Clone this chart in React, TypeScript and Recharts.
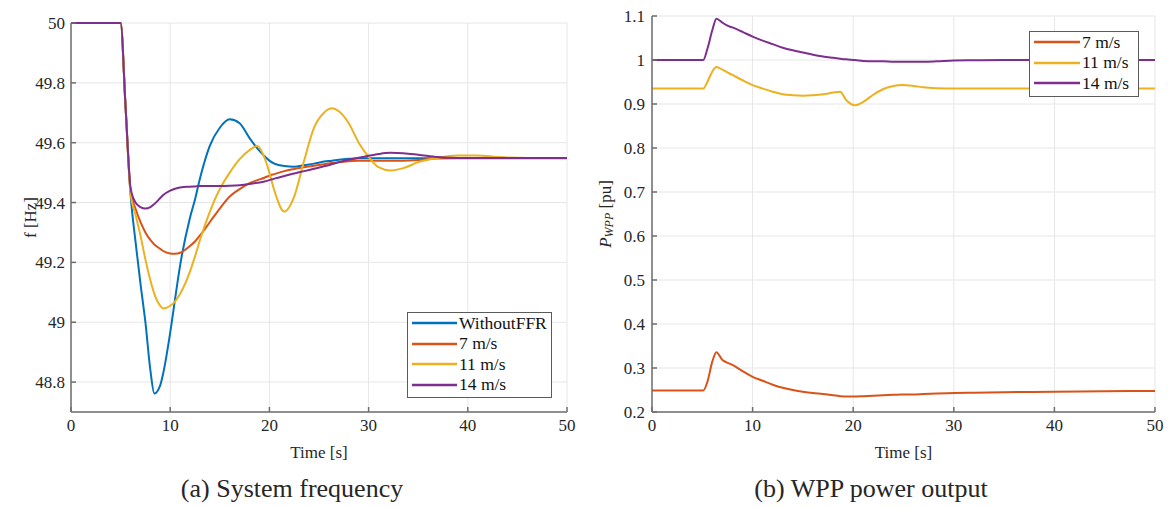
import React from 'react'
import { LineChart, Line, XAxis, YAxis, CartesianGrid, Legend } from 'recharts'

// (a) system frequency
const freqTime = [0, 5, 5.5, 6, 6.5, 7, 7.5, 8, 8.4, 9, 9.3, 10, 10.5, 11, 12, 12.5, 13, 14, 15, 16, 17, 18, 18.8, 19.5, 20, 20.5, 21.5, 22.5, 23.5, 24.5, 25.5, 26.3, 27, 28, 29, 30, 31, 32.2, 33.5, 35, 37, 39, 41, 43, 46, 50]
const freqWithoutFFR = [50, 50, 49.72, 49.43, 49.27, 49.13, 49.0, 48.84, 48.762, 48.79, 48.83, 48.965, 49.08, 49.19, 49.35, 49.41, 49.48, 49.59, 49.65, 49.678, 49.665, 49.615, 49.58, 49.555, 49.54, 49.53, 49.522, 49.52, 49.525, 49.53, 49.537, 49.54, 49.543, 49.546, 49.548, 49.548, 49.548, 49.548, 49.548, 49.548, 49.548, 49.548, 49.548, 49.548, 49.548, 49.548]
const freq7 = [50, 50, 49.72, 49.44, 49.38, 49.335, 49.3, 49.275, 49.26, 49.245, 49.238, 49.23, 49.229, 49.232, 49.255, 49.27, 49.29, 49.335, 49.38, 49.42, 49.445, 49.465, 49.475, 49.483, 49.49, 49.495, 49.505, 49.512, 49.518, 49.523, 49.528, 49.532, 49.535, 49.538, 49.54, 49.54, 49.54, 49.54, 49.54, 49.542, 49.548, 49.549, 49.549, 49.549, 49.549, 49.549]
const freq11 = [50, 50, 49.72, 49.43, 49.36, 49.29, 49.21, 49.14, 49.095, 49.055, 49.046, 49.055, 49.07, 49.095, 49.17, 49.22, 49.275, 49.37, 49.445, 49.5, 49.545, 49.575, 49.589, 49.55, 49.5, 49.44, 49.37, 49.42, 49.54, 49.65, 49.7, 49.715, 49.705, 49.665, 49.6, 49.553, 49.518, 49.507, 49.515, 49.535, 49.55, 49.557, 49.557, 49.552, 49.549, 49.549]
const freq14 = [50, 50, 49.72, 49.45, 49.4, 49.385, 49.38, 49.385, 49.395, 49.415, 49.425, 49.44, 49.446, 49.45, 49.453, 49.454, 49.455, 49.455, 49.455, 49.456, 49.458, 49.462, 49.466, 49.47, 49.475, 49.48, 49.489, 49.497, 49.505, 49.513, 49.521, 49.528, 49.535, 49.543, 49.55, 49.556, 49.562, 49.566, 49.565, 49.56, 49.552, 49.549, 49.549, 49.549, 49.549, 49.549]

// (b) WPP power output
const powerTime = [0, 5.1, 5.5, 6, 6.4, 7, 7.4, 8, 9, 10, 11, 12, 13, 14, 15, 16, 17, 18, 18.7, 19.3, 20.2, 21, 22, 23, 24, 24.8, 26, 27, 28.3, 30, 32, 35, 40, 45, 50]
const power7 = [0.249, 0.249, 0.268, 0.315, 0.336, 0.318, 0.313, 0.307, 0.293, 0.28, 0.271, 0.262, 0.255, 0.25, 0.246, 0.243, 0.241, 0.238, 0.236, 0.235, 0.235, 0.236, 0.237, 0.238, 0.239, 0.24, 0.24, 0.241, 0.242, 0.243, 0.244, 0.245, 0.246, 0.247, 0.248]
const power11 = [0.935, 0.935, 0.95, 0.974, 0.984, 0.978, 0.973, 0.966, 0.954, 0.943, 0.935, 0.928, 0.922, 0.92, 0.919, 0.92, 0.922, 0.926, 0.928, 0.909, 0.897, 0.905, 0.921, 0.934, 0.941, 0.943, 0.941, 0.938, 0.936, 0.935, 0.935, 0.935, 0.935, 0.935, 0.935]
const power14 = [1.0, 1.0, 1.025, 1.068, 1.094, 1.085, 1.079, 1.074, 1.064, 1.053, 1.044, 1.036, 1.028, 1.022, 1.017, 1.012, 1.008, 1.005, 1.003, 1.0015, 1.0, 0.998, 0.997, 0.997, 0.996, 0.996, 0.996, 0.996, 0.997, 0.999, 0.9995, 1.0, 1.0, 1.0, 1.0]

const freqSeriesNames = ['WithoutFFR', '7 m/s', '11 m/s', '14 m/s']
const powerSeriesNames = ['7 m/s', '11 m/s', '14 m/s']

const timeTicks = [0, 10, 20, 30, 40, 50]
const freqTicks = [48.8, 49, 49.2, 49.4, 49.6, 49.8, 50]
const powerTicks = [0.2, 0.3, 0.4, 0.5, 0.6, 0.7, 0.8, 0.9, 1, 1.1]

const BLUE = '#0072BD'
const RED = '#D95319'
const YELLOW = '#EDB120'
const PURPLE = '#7E2F8E'

const font = "'Liberation Serif', 'Times New Roman', serif"
const axisColor = '#6e6e6e'
const textColor = '#262626'
const tickStyle = { fill: textColor, fontSize: 17, fontFamily: font }

const freqData = freqTime.map((t, i) => ({
  t,
  noFFR: freqWithoutFFR[i],
  w7: freq7[i],
  w11: freq11[i],
  w14: freq14[i],
}))

const powerData = powerTime.map((t, i) => ({
  t,
  w7: power7[i],
  w11: power11[i],
  w14: power14[i],
}))

// legend box in the MATLAB style, entries kept in plotting order
const legendBox = (width: number, lineLen: number, order: string[]) => (props: any) => {
  const items = [...(props.payload || [])].sort(
    (a: any, b: any) => order.indexOf(a.value) - order.indexOf(b.value)
  )
  return (
    <div
      style={{
        width,
        boxSizing: 'border-box',
        border: '1px solid #5a5a5a',
        background: '#fff',
        padding: '0 0 2px 4px',
      }}
    >
      {items.map((item: any) => (
        <div key={item.value} style={{ display: 'flex', alignItems: 'center', height: 20.6 }}>
          <svg width={lineLen} height={4} style={{ display: 'block' }}>
            <line x1={0} y1={2} x2={lineLen} y2={2} stroke={item.color} strokeWidth={2.5} />
          </svg>
          <span style={{ marginLeft: 2, fontFamily: font, fontSize: 17.5, lineHeight: 1, color: '#111' }}>
            {item.value}
          </span>
        </div>
      ))}
    </div>
  )
}

const timeLabel = (props: any) => {
  const vb = props.viewBox
  return (
    <text
      x={vb.x + vb.width / 2}
      y={vb.y + 40}
      textAnchor="middle"
      dominantBaseline="central"
      fill={textColor}
      fontSize={17}
      fontFamily={font}
    >
      Time [s]
    </text>
  )
}

const freqLabel = (props: any) => {
  const vb = props.viewBox
  const cx = vb.x + 19
  const cy = vb.y + vb.height / 2
  return (
    <text
      x={cx}
      y={cy}
      transform={`rotate(-90 ${cx} ${cy})`}
      textAnchor="middle"
      dominantBaseline="central"
      fill={textColor}
      fontSize={17}
      fontFamily={font}
    >
      f [Hz]
    </text>
  )
}

const powerLabel = (props: any) => {
  const vb = props.viewBox
  const cx = vb.x + 3
  const cy = vb.y + vb.height / 2
  return (
    <text
      x={cx}
      y={cy}
      transform={`rotate(-90 ${cx} ${cy})`}
      textAnchor="middle"
      dominantBaseline="central"
      fill={textColor}
      fontSize={17}
      fontFamily={font}
    >
      <tspan fontStyle="italic">P</tspan>
      <tspan fontStyle="italic" fontSize={12} dy={4}>WPP</tspan>
      <tspan dy={-4}> [pu]</tspan>
    </text>
  )
}

export default function App() {
  return (
    <div style={{ position: 'absolute', left: 0, top: 0, width: 1171, height: 508, background: '#fff' }}>
      <div style={{ position: 'absolute', left: 0, top: 0 }}>
        <LineChart width={600} height={508} data={freqData} margin={{ top: 23, right: 33, bottom: 66, left: 11 }}>
          <CartesianGrid stroke="#e6e6e6" />
          <XAxis
            dataKey="t"
            type="number"
            domain={[0, 50]}
            ticks={timeTicks}
            interval={0}
            height={30}
            stroke={axisColor}
            strokeWidth={1.5}
            tickSize={-5}
            tickMargin={12}
            tick={tickStyle}
            label={timeLabel}
          />
          <XAxis
            xAxisId="top"
            orientation="top"
            dataKey="t"
            type="number"
            domain={[0, 50]}
            ticks={timeTicks}
            height={0}
            stroke={axisColor}
            strokeWidth={1.5}
            tickSize={-5}
            tick={false}
          />
          <YAxis
            type="number"
            domain={[48.7, 50]}
            ticks={freqTicks}
            interval={0}
            width={60}
            stroke={axisColor}
            strokeWidth={1.5}
            tickSize={-5}
            tickMargin={11}
            tick={tickStyle}
            label={freqLabel}
          />
          <YAxis
            yAxisId="right"
            orientation="right"
            type="number"
            domain={[48.7, 50]}
            ticks={freqTicks}
            width={0}
            stroke={axisColor}
            strokeWidth={1.5}
            tickSize={-5}
            tick={false}
          />
          <Line type="monotone" dataKey="noFFR" name={freqSeriesNames[0]} stroke={BLUE} strokeWidth={2} dot={false} isAnimationActive={false} />
          <Line type="monotone" dataKey="w7" name={freqSeriesNames[1]} stroke={RED} strokeWidth={2} dot={false} isAnimationActive={false} />
          <Line type="monotone" dataKey="w11" name={freqSeriesNames[2]} stroke={YELLOW} strokeWidth={2} dot={false} isAnimationActive={false} />
          <Line type="monotone" dataKey="w14" name={freqSeriesNames[3]} stroke={PURPLE} strokeWidth={2} dot={false} isAnimationActive={false} />
          <Legend
            layout="vertical"
            align="center"
            verticalAlign="middle"
            content={legendBox(145, 45, freqSeriesNames)}
            wrapperStyle={{ left: 407, top: 312, width: 'auto', height: 'auto' }}
          />
        </LineChart>
      </div>

      <div style={{ position: 'absolute', left: 590, top: 0 }}>
        <LineChart width={581} height={508} data={powerData} margin={{ top: 16, right: 16, bottom: 66, left: 12 }}>
          <CartesianGrid stroke="#e6e6e6" />
          <XAxis
            dataKey="t"
            type="number"
            domain={[0, 50]}
            ticks={timeTicks}
            interval={0}
            height={30}
            stroke={axisColor}
            strokeWidth={1.5}
            tickSize={-5}
            tickMargin={12}
            tick={tickStyle}
            label={timeLabel}
          />
          <XAxis
            xAxisId="top"
            orientation="top"
            dataKey="t"
            type="number"
            domain={[0, 50]}
            ticks={timeTicks}
            height={0}
            stroke={axisColor}
            strokeWidth={1.5}
            tickSize={-5}
            tick={false}
          />
          <YAxis
            type="number"
            domain={[0.2, 1.1]}
            ticks={powerTicks}
            interval={0}
            width={50}
            stroke={axisColor}
            strokeWidth={1.5}
            tickSize={-5}
            tickMargin={12}
            tick={tickStyle}
            label={powerLabel}
          />
          <YAxis
            yAxisId="right"
            orientation="right"
            type="number"
            domain={[0.2, 1.1]}
            ticks={powerTicks}
            width={0}
            stroke={axisColor}
            strokeWidth={1.5}
            tickSize={-5}
            tick={false}
          />
          <Line type="monotone" dataKey="w7" name={powerSeriesNames[0]} stroke={RED} strokeWidth={2} dot={false} isAnimationActive={false} />
          <Line type="monotone" dataKey="w11" name={powerSeriesNames[1]} stroke={YELLOW} strokeWidth={2} dot={false} isAnimationActive={false} />
          <Line type="monotone" dataKey="w14" name={powerSeriesNames[2]} stroke={PURPLE} strokeWidth={2} dot={false} isAnimationActive={false} />
          <Legend
            layout="vertical"
            align="center"
            verticalAlign="middle"
            content={legendBox(110, 46, powerSeriesNames)}
            wrapperStyle={{ left: 439, top: 31, width: 'auto', height: 'auto' }}
          />
        </LineChart>
      </div>

      <div
        style={{
          position: 'absolute',
          left: 92,
          top: 474,
          width: 400,
          textAlign: 'center',
          fontFamily: font,
          fontSize: 26,
          lineHeight: '30px',
          color: textColor,
        }}
      >
        (a) System frequency
      </div>
      <div
        style={{
          position: 'absolute',
          left: 671,
          top: 474,
          width: 400,
          textAlign: 'center',
          fontFamily: font,
          fontSize: 26,
          lineHeight: '30px',
          color: textColor,
        }}
      >
        (b) WPP power output
      </div>
    </div>
  )
}
